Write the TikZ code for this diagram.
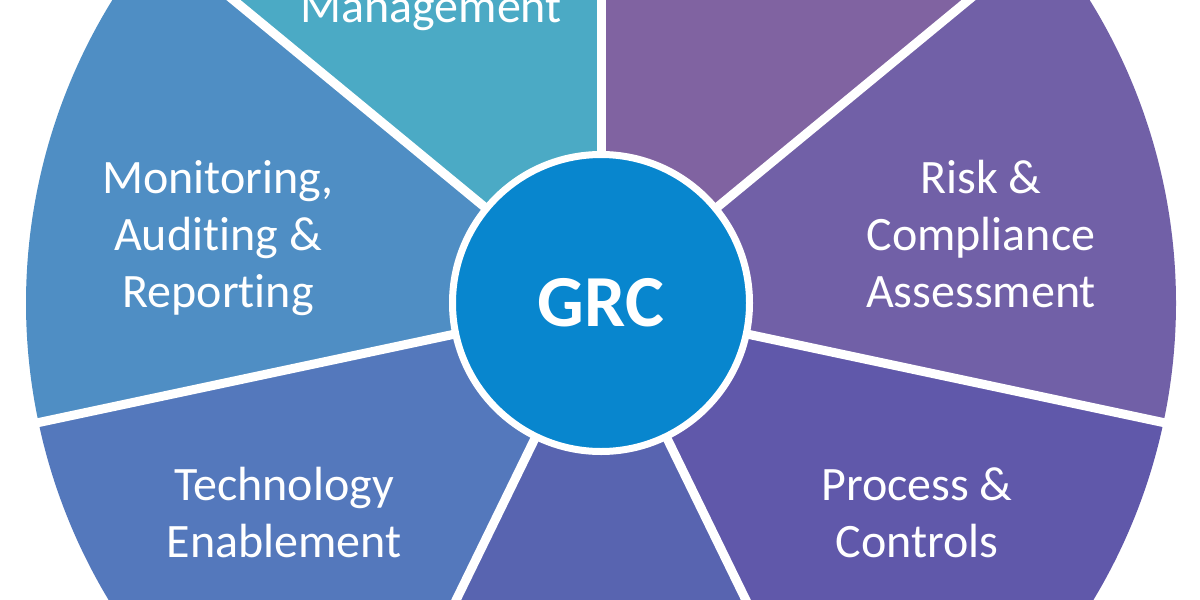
\documentclass[tikz,border=0pt]{standalone}
\usepackage{fontspec}
\setmainfont{Carlito}[Ligatures=NoCommon]

\definecolor{cMgmt}{RGB}{75,170,197}
\definecolor{cTopR}{RGB}{128,99,161}
\definecolor{cRisk}{RGB}{113,96,167}
\definecolor{cProc}{RGB}{96,88,170}
\definecolor{cBott}{RGB}{88,100,176}
\definecolor{cTech}{RGB}{84,120,188}
\definecolor{cMoni}{RGB}{79,142,196}
\definecolor{cGRC}{RGB}{8,134,206}

\tikzset{every picture/.style={line width=0.75pt}}

\begin{document}
\begin{tikzpicture}[x=0.75pt,y=0.75pt,yscale=-1,xscale=1,
  seglabel/.style={anchor=base,inner sep=0pt,align=center,text=white,font=\fontsize{36}{42.75}\selectfont},
  divider/.style={draw=white,line width=6.75pt}]
%set diagram to 1200 x 600, the wheel runs off the top and bottom
\clip (0,0) rectangle (1200,600);
\coordinate (c) at (601,303);

%Sectors of the wheel
\foreach \a/\b/\col in {-90/-39.5/cTopR,-39.5/12/cRisk,12/64/cProc,64/116/cBott,116/168/cTech,168/219.5/cMoni,219.5/270/cMgmt}
  \fill [\col] (c) -- ++(\a:575) arc [start angle=\a, end angle=\b, radius=575] -- cycle;

%Straight Lines between sectors
\foreach \a in {-90,-39.5,12,64,116,168,219.5}
  \draw [divider] (c) -- ++(\a:620);

%Circle in the middle
\node [circle,fill=cGRC,draw=white,line width=5.25pt,minimum size=222.75pt,inner sep=0pt,text=white,font=\bfseries\fontsize{55}{66}\selectfont] (grc) at (c) {GRC};

% Text Node (base = last line)
\node [seglabel] (mgmt) at (431,22) {Management};
% Text Node
\node [seglabel] (moni) at (218,307) {Monitoring,\\Auditing \&\\Reporting};
% Text Node
\node [seglabel] (risk) at (981,307) {Risk \&\\Compliance\\Assessment};
% Text Node
\node [seglabel] (tech) at (284,557) {Technology\\Enablement};
% Text Node
\node [seglabel] (proc) at (917,557) {Process \&\\Controls};

\end{tikzpicture}
\end{document}
